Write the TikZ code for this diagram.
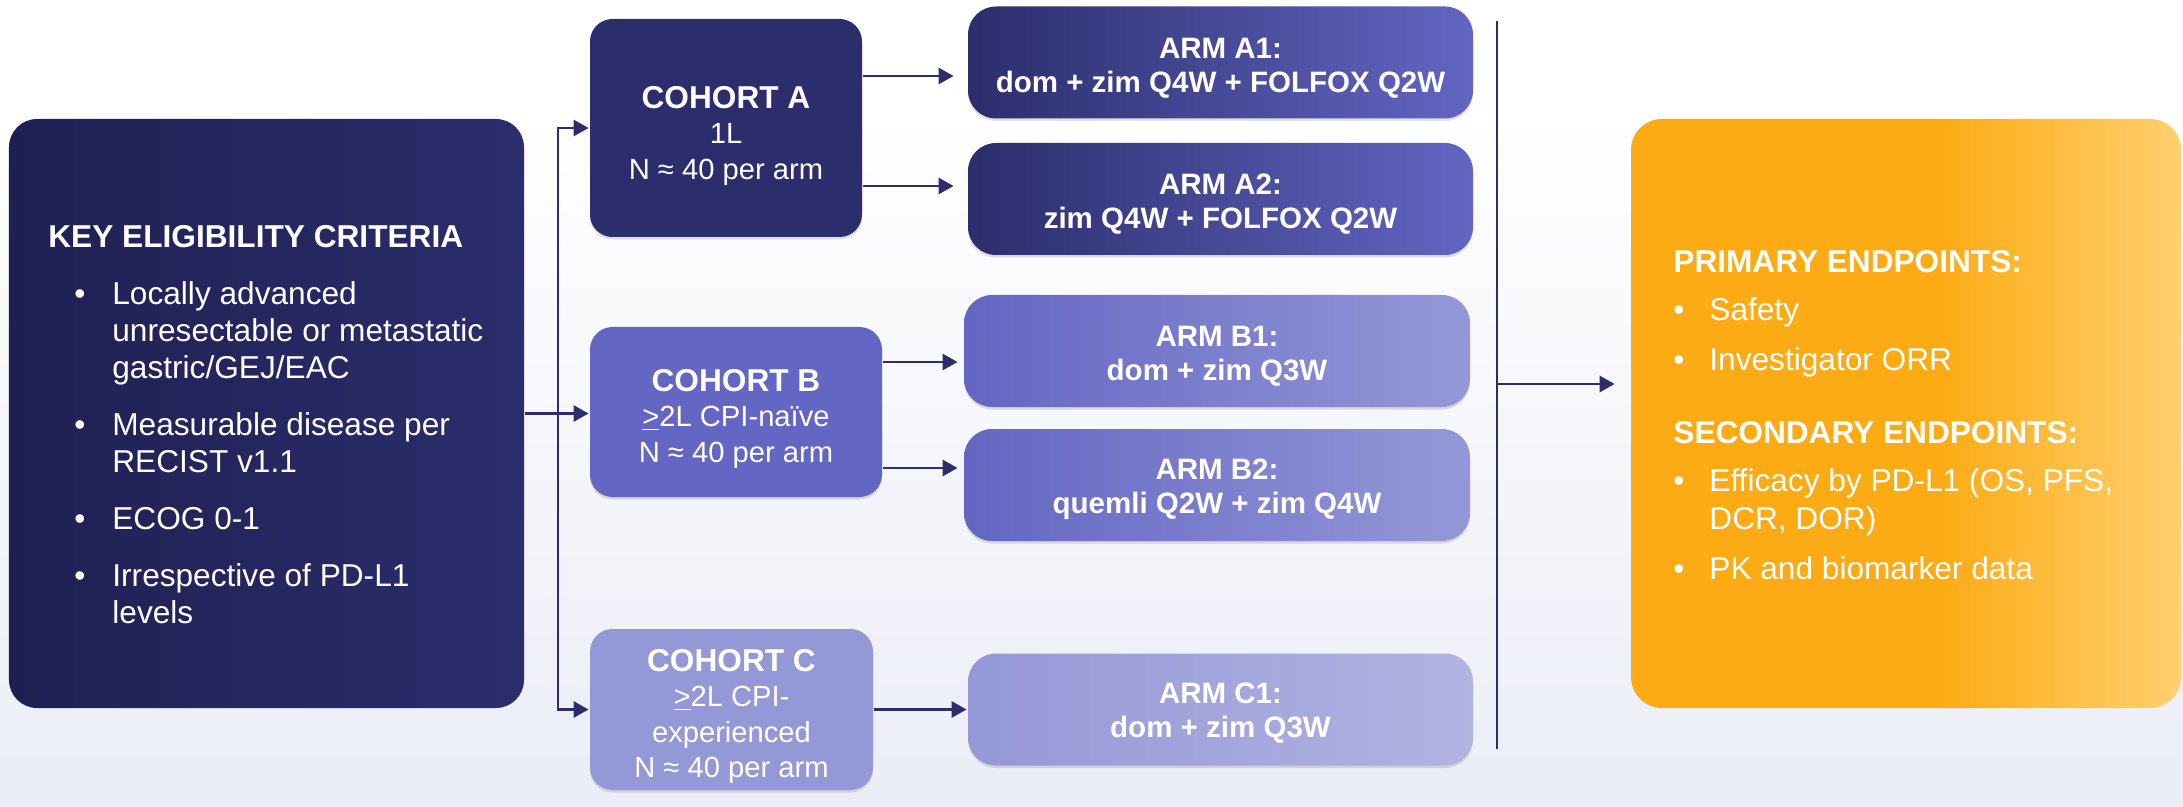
\documentclass[tikz,border=0pt]{standalone}
\usepackage{fontspec}
\setmainfont{Liberation Sans}
\usepackage{tikz}
\usetikzlibrary{arrows.meta,shadows}

\definecolor{navy}{RGB}{43,45,108}
\definecolor{navydeep}{RGB}{31,32,82}
\definecolor{periwinkle}{RGB}{99,102,194}
\definecolor{lavender}{RGB}{149,152,215}
\definecolor{lavenderlight}{RGB}{177,179,225}
\definecolor{amber}{RGB}{253,171,20}
\definecolor{amberlight}{RGB}{255,208,112}
\definecolor{bgbottom}{RGB}{235,237,246}

\pgfdeclarehorizontalshading{endshade}{100bp}{color(0bp)=(amber); color(25bp)=(amber);
  color(53bp)=(amber); color(75bp)=(amberlight); color(100bp)=(amberlight)}
\pgfdeclareverticalshading{bgshade}{100bp}{color(0bp)=(bgbottom); color(25bp)=(bgbottom);
  color(68bp)=(white); color(100bp)=(white)}

% extra room above the first line, to sit the text a bit lower in its box
\newcommand{\padtop}[1]{\rule{0pt}{#1}}
\newcommand{\cohorttitle}[1]{{\fontsize{18}{20.2}\selectfont\bfseries #1}}

\begin{document}
\begin{tikzpicture}[line width = 1.6pt,
                    every node/.style = {text = white},
                    keybox/.style = {rounded corners = 0.56cm, minimum width = 10.3cm, minimum height = 11.78cm,
                                     left color = navydeep, right color = navy},
                    endbox/.style = {rounded corners = 0.62cm, minimum width = 11cm, minimum height = 11.78cm,
                                     shading = endshade},
                    listtext/.style = {inner sep = 0pt, align = left},
                    softshadow/.style = {drop shadow = {shadow xshift = 0cm, shadow yshift = -0.05cm,
                                         opacity = 0.12, fill = black}},
                    cohort/.style = {rounded corners = 0.45cm, align = center, softshadow,
                                     font = \fontsize{16.6}{20.2}\selectfont},
                    arm/.style = {rounded corners = 0.56cm, align = center, softshadow,
                                  minimum width = 10.1cm, minimum height = 2.24cm,
                                  font = \fontsize{16.8}{19.4}\selectfont\bfseries},
                    armA/.style = {arm, left color = navy, right color = periwinkle},
                    armB/.style = {arm, left color = periwinkle, right color = lavender},
                    armC/.style = {arm, left color = lavender, right color = lavenderlight},
                    conn/.style = {draw = navy},
                    arr/.style = {conn, -{Triangle[length = 0.3cm, width = 0.32cm]}}]

% background
\shade [shading = bgshade] (0,0) rectangle (43.66,-16.14);
\useasboundingbox (0,0) rectangle (43.66,-16.14);

% eligibility
\node [keybox] (key) at (5.33,-8.27) {};
\node [listtext, anchor = base west, font = \fontsize{18}{21}\selectfont] (keytext) at (0.94,-4.96) {%
  \begin{tabular}[t]{@{\hspace{0.52cm}}p{0.76cm}@{}l@{}}
    \multicolumn{2}{@{}l@{}}{\bfseries KEY ELIGIBILITY CRITERIA}\\[0.4cm]
    \textbullet & Locally advanced\\
                & unresectable or metastatic\\
                & gastric/GEJ/EAC\\[0.4cm]
    \textbullet & Measurable disease per\\
                & RECIST v1.1\\[0.4cm]
    \textbullet & ECOG 0-1\\[0.4cm]
    \textbullet & Irrespective of PD-L1\\
                & levels
  \end{tabular}};

% cohorts
\node [cohort, fill = navy, minimum width = 5.44cm, minimum height = 4.36cm] (cohA) at (14.52,-2.56)
  {\padtop{0.76cm}\cohorttitle{COHORT A}\\1L\\N ≈ 40 per arm};
\node [cohort, fill = periwinkle, minimum width = 5.84cm, minimum height = 3.4cm] (cohB) at (14.72,-8.24)
  {\padtop{0.72cm}\cohorttitle{COHORT B}\\\underline{>}2L CPI-naïve\\N ≈ 40 per arm};
\node [cohort, fill = lavender, minimum width = 5.66cm, minimum height = 3.22cm] (cohC) at (14.63,-14.19)
  {\padtop{0.72cm}\cohorttitle{COHORT C}\\\underline{>}2L CPI-\\experienced\\N ≈ 40 per arm};

% arms
\node [armA] (armA1) at (24.41,-1.25) {\padtop{0.63cm}ARM A1:\\dom + zim Q4W + FOLFOX Q2W};
\node [armA] (armA2) at (24.41,-3.98) {\padtop{0.63cm}ARM A2:\\zim Q4W + FOLFOX Q2W};
\node [armB, minimum width = 10.12cm] (armB1) at (24.34,-7.02) {\padtop{0.6cm}ARM B1:\\dom + zim Q3W};
\node [armB, minimum width = 10.12cm] (armB2) at (24.34,-9.70) {\padtop{0.6cm}ARM B2:\\quemli Q2W + zim Q4W};
\node [armC] (armC1) at (24.41,-14.19) {\padtop{0.56cm}ARM C1:\\dom + zim Q3W};

% endpoints
\node [endbox] (endp) at (38.12,-8.27) {};
\node [listtext, anchor = base west, font = \fontsize{18}{21.6}\selectfont] (endtext) at (33.44,-5.46) {%
  \begin{tabular}[t]{@{}p{0.72cm}@{}l@{}}
    \multicolumn{2}{@{}l@{}}{\bfseries PRIMARY ENDPOINTS:}\\[0.2cm]
    \textbullet & Safety\\[0.24cm]
    \textbullet & Investigator ORR\\[0.7cm]
    \multicolumn{2}{@{}l@{}}{\bfseries SECONDARY ENDPOINTS:}\\[0.2cm]
    \textbullet & Efficacy by PD-L1 (OS, PFS,\\
                & DCR, DOR)\\[0.24cm]
    \textbullet & PK and biomarker data
  \end{tabular}};

% split to cohorts
\coordinate (split) at (11.16,-8.27);
\draw [conn, line width = 2.2pt] (key.east) -- (split);
\draw [arr] (split) |- (cohA.west);
\draw [arr] (split) -- (split -| cohB.west);
\draw [arr] (split) |- (cohC.west);

% cohorts to arms
\draw [arr, shorten >= 0.26cm] ([yshift = 1.04cm]cohA.east) -- ([yshift = 1.04cm]cohA.east -| armA1.west);
\draw [arr, shorten >= 0.26cm] ([yshift = -1.16cm]cohA.east) -- ([yshift = -1.16cm]cohA.east -| armA2.west);
\draw [arr, shorten >= 0.1cm] ([yshift = 1.0cm]cohB.east) -- ([yshift = 1.0cm]cohB.east -| armB1.west);
\draw [arr, shorten >= 0.1cm] ([yshift = -1.12cm]cohB.east) -- ([yshift = -1.12cm]cohB.east -| armB2.west);
\draw [arr] (cohC.east) -- (cohC.east -| armC1.west);

% arms to endpoints
\coordinate (colTop) at (29.94,-0.42);
\coordinate (colBot) at (29.94,-14.98);
\draw [conn] (colTop) -- (colBot);
\draw [arr, shorten >= 0.3cm] ([yshift = 0.59cm]endp.west -| colTop) -- ([yshift = 0.59cm]endp.west);
\end{tikzpicture}
\end{document}
